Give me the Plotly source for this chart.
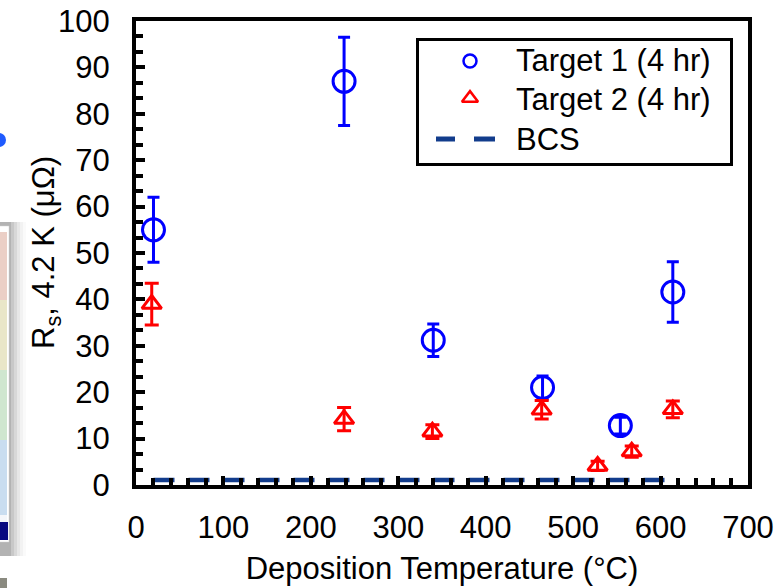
import plotly.graph_objects as go

# Data
t1_x = [20, 238, 340, 465, 554, 614]
t1_y = [55, 87, 31.2, 21, 12.8, 41.6]
t1_err = [7, 9.5, 3.5, 2.5, 1.8, 6.5]

t2_x = [18, 238, 339, 464, 528, 567, 614]
t2_y = [39, 14.2, 11.5, 16.2, 4.1, 7.2, 16.3]
t2_err = [4.5, 2.5, 1.5, 2.0, 1.0, 1.2, 1.8]

bcs_x = [20, 615]
bcs_y = [1.1, 1.1]

legend_names = ["Target 1 (4 hr)", "Target 2 (4 hr)", "BCS"]
x_title = "Deposition Temperature (°C)"
y_title = "R<sub>s</sub>, 4.2 K (μΩ)"

FONT = "Liberation Sans, Arial, sans-serif"
FS = 31
BLUE = "#0000FF"
RED = "#FF0000"
NAVY = "#123C8C"


def px(xp):
    return (xp - 136) / 612


def py(yp):
    return (485 - yp) / 464


fig = go.Figure()
fig.add_trace(go.Scatter(
    x=t1_x, y=t1_y, mode="markers", name=legend_names[0], showlegend=False,
    marker=dict(symbol="circle-open", size=22, color=BLUE, line=dict(width=3, color=BLUE)),
    error_y=dict(type="data", array=t1_err, visible=True, color=BLUE, thickness=3, width=6),
))
fig.add_trace(go.Scatter(
    x=t2_x, y=t2_y, mode="markers", name=legend_names[1], showlegend=False,
    marker=dict(symbol="triangle-up-open", size=17, color=RED, line=dict(width=3, color=RED)),
    error_y=dict(type="data", array=t2_err, visible=True, color=RED, thickness=3, width=7),
))
fig.add_trace(go.Scatter(
    x=bcs_x, y=bcs_y, mode="lines", name=legend_names[2], showlegend=False,
    line=dict(color=NAVY, width=4.5, dash="21px,14px"),
))

# ---- legend (drawn on an overlay axis in paper-like 0..1 units) ----
row_y = [61, 100, 139]
fig.add_trace(go.Scatter(
    x=[px(470)], y=[py(row_y[0])], xaxis="x2", yaxis="y2", mode="markers",
    showlegend=False, hoverinfo="skip",
    marker=dict(symbol="circle-open", size=13, color=BLUE, line=dict(width=2.5, color=BLUE)),
))
fig.add_trace(go.Scatter(
    x=[px(470)], y=[py(row_y[1]) + 0.004], xaxis="x2", yaxis="y2", mode="markers",
    showlegend=False, hoverinfo="skip",
    marker=dict(symbol="triangle-up-open", size=14, color=RED, line=dict(width=2.5, color=RED)),
))
for (a, b) in [(436, 455), (474, 495)]:
    fig.add_trace(go.Scatter(
        x=[px(a), px(b)], y=[py(row_y[2])] * 2, xaxis="x2", yaxis="y2", mode="lines",
        showlegend=False, hoverinfo="skip",
        line=dict(color=NAVY, width=5),
    ))

annotations = [
    dict(x=px(514), y=py(yy), xref="paper", yref="paper", text=name,
         xanchor="left", yanchor="middle", showarrow=False,
         font=dict(size=FS, family=FONT, color="black"))
    for name, yy in zip(legend_names, row_y)
]
annotations.append(dict(
    x=px(46), y=py(253), xref="paper", yref="paper", text=y_title,
    textangle=-90, xanchor="center", yanchor="middle", showarrow=False,
    font=dict(size=FS, family=FONT, color="black")))

shapes = [
    dict(type="rect", xref="paper", yref="paper", layer="below",
         x0=px(417.5), x1=px(731.5), y0=py(164.5), y1=py(39.5),
         fillcolor="white", line=dict(width=3, color="black")),
]

# decorative fragments at left edge (from cropped slide)
shapes.append(dict(type="circle", xref="paper", yref="paper",
                   x0=px(-8), x1=px(6), y0=py(147), y1=py(133),
                   fillcolor="#1F5BFF", line=dict(width=0)))
for i, op in enumerate([0.10, 0.08, 0.06, 0.045, 0.03, 0.02]):
    shapes.append(dict(type="rect", xref="paper", yref="paper",
                       x0=px(0), x1=px(11 + i * 3),
                       y0=py(556), y1=py(222),
                       fillcolor="rgba(0,0,0,%g)" % op, line=dict(width=0)))
shapes.append(dict(type="rect", xref="paper", yref="paper",
                   x0=px(-2), x1=px(9), y0=py(542), y1=py(226),
                   fillcolor="white", line=dict(width=0.5, color="#d0d0d0")))
for (ya, yb, c) in [(232, 300, "#EBCFC6"), (300, 370, "#E9E6C8"), (370, 440, "#CFE6CF"),
                    (440, 515, "#C9DDF0"), (515, 522, "#F4F6FA")]:
    shapes.append(dict(type="rect", xref="paper", yref="paper",
                       x0=px(0), x1=px(7), y0=py(yb), y1=py(ya),
                       fillcolor=c, line=dict(width=0)))
shapes += [
    dict(type="rect", xref="paper", yref="paper",
         x0=px(0), x1=px(8), y0=py(540), y1=py(522),
         fillcolor="#0A0A80", line=dict(width=0)),
    dict(type="rect", xref="paper", yref="paper",
         x0=px(0), x1=px(7), y0=py(588), y1=py(578),
         fillcolor="#8A8A80", line=dict(width=0)),
]

fig.update_layout(
    width=779, height=588,
    margin=dict(l=136, r=31, t=21, b=103),
    paper_bgcolor="white", plot_bgcolor="white",
    font=dict(family=FONT, size=FS, color="black"),
    showlegend=False,
    shapes=shapes,
    annotations=annotations,
    xaxis2=dict(overlaying="x", range=[0, 1], visible=False, fixedrange=True),
    yaxis2=dict(overlaying="y", range=[0, 1], visible=False, fixedrange=True),
)
fig.layout.xaxis.update(
    range=[0, 700], dtick=100, tick0=0, automargin=False,
    showline=True, linewidth=4, linecolor="black", mirror=True,
    ticks="inside", ticklen=9, tickwidth=3.5, tickcolor="black",
    minor=dict(dtick=20, tick0=0, ticks="inside", ticklen=7, tickwidth=3.5, tickcolor="black"),
    showgrid=False, zeroline=False, ticklabelstandoff=12,
    title=dict(text=x_title, font=dict(size=FS), standoff=14),
)
fig.layout.yaxis.update(
    range=[0, 100], dtick=10, tick0=0, automargin=False,
    showline=True, linewidth=4, linecolor="black", mirror=True,
    ticks="inside", ticklen=9, tickwidth=3.5, tickcolor="black",
    minor=dict(dtick=10/3, tick0=0, ticks="inside", ticklen=7, tickwidth=3.5, tickcolor="black"),
    showgrid=False, zeroline=False, ticklabelstandoff=16,
)

fig.write_html("out.html")
